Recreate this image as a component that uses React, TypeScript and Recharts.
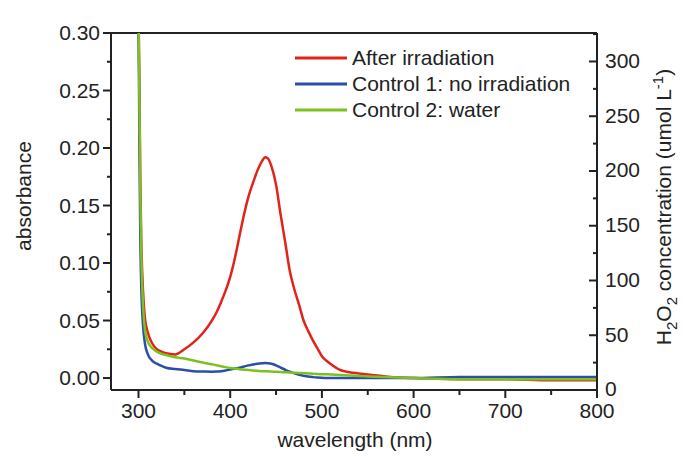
import { LineChart, Line, XAxis, YAxis, Legend, ReferenceLine } from 'recharts';

// wavelength grid (nm)
const wavelengths = [
  300, 301, 302, 303, 305, 307, 310, 315, 320, 325, 330, 340, 350, 360, 370, 380, 385, 390, 395, 400,
  405, 410, 415, 420, 425, 430, 435, 438, 441, 445, 450, 455, 460, 465, 470, 475, 480, 485, 490, 495,
  500, 505, 510, 520, 530, 540, 550, 575, 600, 650, 700, 750, 800,
];

// absorbance, after irradiation
const afterIrradiation = [
  0.32, 0.25, 0.17, 0.12, 0.075, 0.052, 0.04, 0.03, 0.025, 0.023, 0.0215, 0.0205, 0.025, 0.031, 0.039, 0.05, 0.057, 0.066, 0.076, 0.088,
  0.104, 0.123, 0.142, 0.158, 0.17, 0.181, 0.189, 0.192, 0.191, 0.184, 0.168, 0.142, 0.118, 0.093, 0.077, 0.064, 0.05, 0.041, 0.033, 0.026,
  0.019, 0.015, 0.012, 0.007, 0.005, 0.004, 0.003, 0.001, 0, -0.001, -0.001, -0.002, -0.002,
];

// absorbance, control 1 (no irradiation)
const control1 = [
  0.32, 0.2, 0.12, 0.08, 0.045, 0.03, 0.021, 0.015, 0.0125, 0.0105, 0.009, 0.0078, 0.007, 0.006, 0.0057, 0.0055, 0.0056, 0.006, 0.0066, 0.0073,
  0.0082, 0.009, 0.01, 0.011, 0.0118, 0.0124, 0.0128, 0.013, 0.0129, 0.0125, 0.011, 0.009, 0.0072, 0.0055, 0.004, 0.0028, 0.002, 0.0013, 0.0008, 0.0004,
  0.0002, 0.0001, 0, 0, 0, 0, 0, 0, 0, 0.001, 0.001, 0.001, 0.001,
];

// absorbance, control 2 (water)
const control2 = [
  0.32, 0.24, 0.16, 0.11, 0.062, 0.042, 0.032, 0.026, 0.023, 0.021, 0.02, 0.018, 0.017, 0.0152, 0.0135, 0.012, 0.0112, 0.0103, 0.0095, 0.0088,
  0.0082, 0.0077, 0.0073, 0.007, 0.0066, 0.0063, 0.006, 0.0059, 0.0058, 0.0056, 0.0054, 0.0052, 0.005, 0.0048, 0.0046, 0.0044, 0.0042, 0.004, 0.0038, 0.0036,
  0.0034, 0.0032, 0.003, 0.0026, 0.0022, 0.0018, 0.0014, 0.0006, 0, -0.001, -0.001, -0.001, -0.001,
];

const xTicks = [300, 350, 400, 450, 500, 550, 600, 650, 700, 750, 800];
const leftTicks = [0, 0.025, 0.05, 0.075, 0.1, 0.125, 0.15, 0.175, 0.2, 0.225, 0.25, 0.275, 0.3];
const rightTicks = [0, 25, 50, 75, 100, 125, 150, 175, 200, 225, 250, 275, 300, 325];

const data = wavelengths.map((wl, i) => ({
  wl,
  after: afterIrradiation[i],
  c1: control1[i],
  c2: control2[i],
}));

const FONT = '"Liberation Sans", Arial, sans-serif';
const INK = '#222';

const LeftTick = (props: any) => {
  const { x, y, payload } = props;
  const v = payload.value;
  const major = Math.abs(v * 20 - Math.round(v * 20)) < 1e-6;
  return (
    <g>
      <line x1={x - (major ? 8 : 4)} x2={x} y1={y} y2={y} stroke={INK} strokeWidth={2} />
      {major && (
        <text x={x - 11} y={y} dy="0.35em" textAnchor="end" fontSize={21} fill={INK} fontFamily={FONT}>
          {v.toFixed(2)}
        </text>
      )}
    </g>
  );
};

const RightTick = (props: any) => {
  const { x, y, payload } = props;
  const v = payload.value;
  const major = v % 50 === 0;
  return (
    <g>
      <line x1={x - (major ? 8 : 4)} x2={x} y1={y} y2={y} stroke={INK} strokeWidth={2} />
      {major && (
        <text x={x + 8} y={y - 1} dy="0.35em" textAnchor="start" fontSize={21} fill={INK} fontFamily={FONT}>
          {v}
        </text>
      )}
    </g>
  );
};

const BottomTick = (props: any) => {
  const { x, y, payload } = props;
  const v = payload.value;
  const major = v % 100 === 0;
  return (
    <g>
      <line x1={x} x2={x} y1={y} y2={y + (major ? 8 : 5)} stroke={INK} strokeWidth={2} />
      {major && (
        <text x={x} y={y + 21} dy="0.35em" textAnchor="middle" fontSize={21} fill={INK} fontFamily={FONT}>
          {v}
        </text>
      )}
    </g>
  );
};

const renderLegend = (props: any) => {
  const { payload } = props;
  return (
    <div style={{ fontFamily: FONT, fontSize: 21, color: INK }}>
      {payload.map((p: any) => (
        <div key={p.value} style={{ display: 'flex', alignItems: 'center', height: 26 }}>
          <svg width={60} height={26}>
            <line x1={3} x2={55} y1={13} y2={13} stroke={p.color} strokeWidth={3} />
          </svg>
          <span style={{ lineHeight: '26px', whiteSpace: 'nowrap' }}>{p.value}</span>
        </div>
      ))}
    </div>
  );
};

export default function App() {
  return (
    <div style={{ position: 'absolute', left: 0, top: 0, width: 684, height: 457, background: '#fff' }}>
      <LineChart width={684} height={457} data={data} margin={{ top: 33, right: 0, bottom: 0, left: 0 }}>
        <XAxis
          dataKey="wl"
          type="number"
          domain={[270, 800]}
          allowDataOverflow
          ticks={xTicks}
          interval={0}
          height={67}
          tickSize={0}
          tickMargin={0}
          tickLine={false}
          tick={<BottomTick />}
          axisLine={{ stroke: INK, strokeWidth: 2 }}
        />
        <YAxis
          yAxisId="left"
          domain={[-0.0104, 0.3]}
          allowDataOverflow
          ticks={leftTicks}
          interval={0}
          width={111}
          tickSize={0}
          tickMargin={0}
          tickLine={false}
          tick={<LeftTick />}
          axisLine={{ stroke: INK, strokeWidth: 2 }}
        />
        <YAxis
          yAxisId="right"
          orientation="right"
          type="number"
          domain={[0, 326]}
          allowDataOverflow
          ticks={rightTicks}
          interval={0}
          width={87}
          tickSize={0}
          tickMargin={0}
          tickLine={false}
          tick={<RightTick />}
          axisLine={{ stroke: INK, strokeWidth: 2 }}
        />
        <ReferenceLine yAxisId="left" y={0.3} stroke={INK} strokeWidth={2} ifOverflow="visible" />
        <Legend
          layout="vertical"
          align="center"
          verticalAlign="middle"
          content={renderLegend}
          wrapperStyle={{ top: 45, left: 292, width: 300, height: 80 }}
        />
        <Line yAxisId="left" type="monotone" dataKey="after" name="After irradiation" stroke="#e2231a" strokeWidth={2.5} dot={false} isAnimationActive={false} />
        <Line yAxisId="left" type="monotone" dataKey="c1" name="Control 1: no irradiation" stroke="#2b4ea8" strokeWidth={2.5} dot={false} isAnimationActive={false} />
        <Line yAxisId="left" type="monotone" dataKey="c2" name="Control 2: water" stroke="#7dc11f" strokeWidth={2.5} dot={false} isAnimationActive={false} />
      </LineChart>
      <svg width={684} height={457} style={{ position: 'absolute', left: 0, top: 0, pointerEvents: 'none' }}>
        <text x={24} y={196} transform="rotate(-90 24 196)" textAnchor="middle" dy="0.35em" fontSize={21} fill={INK} fontFamily={FONT}>
          absorbance
        </text>
        <text x={355} y={440} textAnchor="middle" dy="0.35em" fontSize={21} fill={INK} fontFamily={FONT}>
          wavelength (nm)
        </text>
        <text x={664} y={207} transform="rotate(-90 664 207)" textAnchor="middle" dy="0.35em" fontSize={21} fill={INK} fontFamily={FONT}>
          <tspan>H</tspan>
          <tspan dy={6} fontSize={15}>2</tspan>
          <tspan dy={-6}>O</tspan>
          <tspan dy={6} fontSize={15}>2</tspan>
          <tspan dy={-6}> concentration (umol L</tspan>
          <tspan dy={-8} fontSize={15}>-1</tspan>
          <tspan dy={8}>)</tspan>
        </text>
      </svg>
    </div>
  );
}
